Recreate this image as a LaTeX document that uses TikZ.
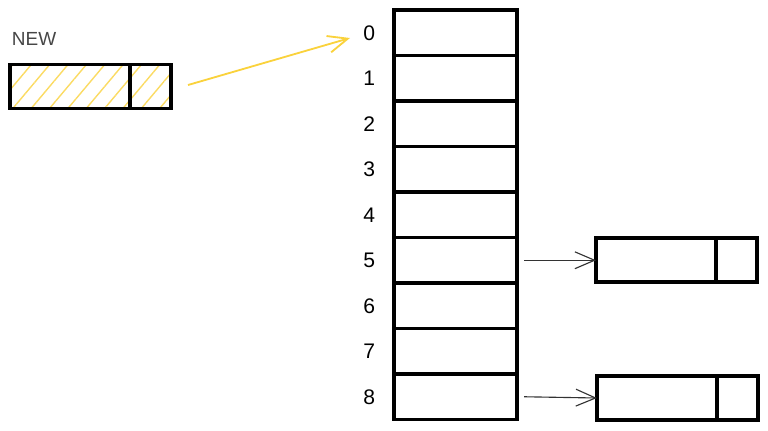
\documentclass[tikz,border=0pt]{standalone}
\usepackage{fontspec}
\setmainfont{Liberation Sans}
\usepackage{xcolor}
\definecolor{hashyellow}{RGB}{250,210,60}
\definecolor{newgray}{RGB}{70,70,70}
\usetikzlibrary{arrows.meta,positioning,patterns.meta}

\begin{document}
\begin{tikzpicture}[x=0.025cm, y=-0.025cm,
  every node/.style={font=\fontsize{15}{17}\selectfont},
  cell/.style={draw, line width=2.6pt, minimum width=3.075cm, minimum height=1.1375cm, inner sep=0, outer sep=0},
  keybox/.style={draw, line width=2.6pt, minimum width=3cm, minimum height=1.1cm, inner sep=0, outer sep=0},
  nextbox/.style={draw, line width=2.6pt, minimum width=1.03cm, minimum height=1.1cm, inner sep=0, outer sep=0},
  hatch/.style={pattern={Lines[angle=50, distance=10pt, line width=1pt]}, pattern color=hashyellow!80},
  ptr/.style={-{Straight Barb[length=14pt, width=12pt]}, line width=0.8pt, black!80}]
\useasboundingbox (0,0) rectangle (768,430);
% bucket array
\foreach \i in {0,...,8} {
  \node[cell] (c\i) at (455.5, 32.75+45.5*\i) {};
  \node[anchor=east] (l\i) at (380, 32.75+45.5*\i) {\i};
}
% new entry
\node[anchor=west, newgray, font=\fontsize{13.5}{15}\selectfont] (newlbl) at (7,39) {NEW};
\node[keybox, hatch] (nk) at (70,86.5) {};
\node[nextbox, hatch, right=0pt of nk] (nn) {};
\coordinate (nstart) at (188,85);
\coordinate (nend) at (350,38);
\draw[ptr, hashyellow, line width=1.3pt] (nstart) -- (nend);
% chained entries
\node[keybox] (k5) at (656,260.25) {};
\node[nextbox, right=0pt of k5] (n5) {};
\node[keybox] (k8) at (657,398) {};
\node[nextbox, right=0pt of k8] (n8) {};
\draw[ptr] ([xshift=5pt]c5.east) -- (k5.west);
\draw[ptr] ([xshift=5pt]c8.east) -- (k8.west);
\end{tikzpicture}
\end{document}
